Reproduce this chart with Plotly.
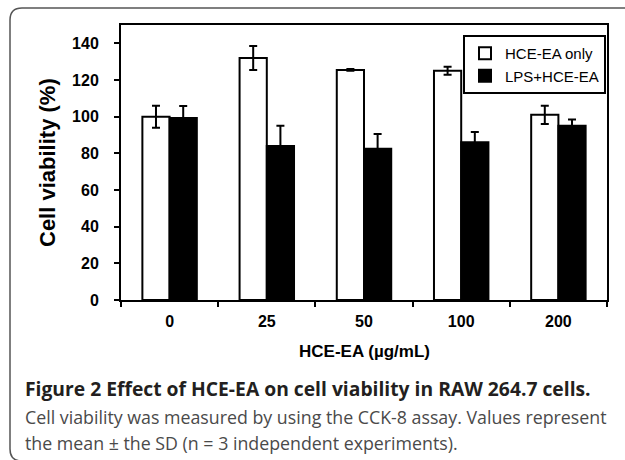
import plotly.graph_objects as go

# ---- data ----
categories = ["0", "25", "50", "100", "200"]
hce_only = [100, 132, 125.5, 125, 101]
hce_only_sd = [6, 6.5, 0.5, 2.2, 5]
lps_hce = [99.3, 84, 82.5, 86, 95]
lps_hce_sd = [6.5, 11, 8, 5.7, 3.5]
y_ticks = [0, 20, 40, 60, 80, 100, 120, 140]

W, H = 625, 460
ML, MR, MT, MB = 121, 18, 25, 160
PW, PH = W - ML - MR, H - MT - MB


def px(x):
    return (x - ML) / PW


def py(y):
    return (H - MB - y) / PH


ARIAL = "Liberation Sans, Arial, sans-serif"
CAP = "Open Sans, Noto Sans, sans-serif"

fig = go.Figure()
fig.add_trace(go.Bar(
    x=categories, y=hce_only, name="HCE-EA only",
    marker=dict(color="white", line=dict(color="black", width=2)),
    error_y=dict(type="data", array=hce_only_sd, visible=True,
                 color="black", thickness=2, width=4),
))
fig.add_trace(go.Bar(
    x=categories, y=lps_hce, name="LPS+HCE-EA",
    marker=dict(color="black", line=dict(color="black", width=2)),
    error_y=dict(type="data", array=lps_hce_sd, visible=True,
                 color="black", thickness=2, width=4),
))

fig.update_layout(
    width=W, height=H,
    margin=dict(l=ML, r=MR, t=MT, b=MB, pad=0),
    paper_bgcolor="white", plot_bgcolor="white",
    barmode="group", bargap=0.44, bargroupgap=0,
    showlegend=True,
    legend=dict(
        x=px(463), y=py(35), xanchor="left", yanchor="top",
        bgcolor="white", bordercolor="black", borderwidth=2,
        font=dict(family=ARIAL, size=15, color="black"),
        tracegroupgap=0,
    ),
    xaxis=dict(
        type="category", tickson="boundaries",
        showline=True, linecolor="black", linewidth=2, mirror=True,
        ticks="outside", ticklen=5, tickwidth=2, tickcolor="black",
        ticklabelstandoff=6,
        tickfont=dict(family=ARIAL, size=16, color="black", weight="bold"),
        showgrid=False, zeroline=False,
    ),
    yaxis=dict(
        range=[0, 150], tickvals=y_ticks,
        showline=True, linecolor="black", linewidth=2, mirror=True,
        ticks="outside", ticklen=5, tickwidth=2, tickcolor="black",
        ticklabelstandoff=12,
        tickfont=dict(family=ARIAL, size=16, color="black", weight="bold"),
        showgrid=False, zeroline=False,
    ),
)

annotations = [
    dict(text="HCE-EA (µg/mL)", x=0.5, y=py(352), xref="paper", yref="paper",
         xanchor="center", yanchor="middle", showarrow=False,
         font=dict(family=ARIAL, size=17, color="black", weight="bold")),
    dict(text="Cell viability (%)", x=px(47), y=py(163), xref="paper", yref="paper",
         xanchor="center", yanchor="middle", showarrow=False, textangle=-90,
         font=dict(family=ARIAL, size=22, color="black", weight="bold")),
    dict(text="Figure 2 Effect of HCE-EA on cell viability in RAW 264.7 cells.",
         x=px(23), y=py(388), xref="paper", yref="paper",
         xanchor="left", yanchor="middle", showarrow=False,
         font=dict(family=CAP, size=19.3, color="#231f20", weight="bold")),
    dict(text="Cell viability was measured by using the CCK-8 assay. Values represent",
         x=px(23), y=py(416.5), xref="paper", yref="paper",
         xanchor="left", yanchor="middle", showarrow=False,
         font=dict(family=CAP, size=17.8, color="#4a4a4a")),
    dict(text="the mean ± the SD (n = 3 independent experiments).",
         x=px(23), y=py(443), xref="paper", yref="paper",
         xanchor="left", yanchor="middle", showarrow=False,
         font=dict(family=CAP, size=17.8, color="#4a4a4a")),
]
fig.update_layout(annotations=annotations)

# outer rounded frame
r_x, r_y = 12 / PW, 12 / PH
L, T, B, R = px(10), py(8), py(461), px(640)
path = (f"M {R},{T} L {L + r_x},{T} Q {L},{T} {L},{T - r_y} "
        f"L {L},{B + r_y} Q {L},{B} {L + r_x},{B} L {R},{B}")
fig.add_shape(type="path", path=path, xref="paper", yref="paper",
              line=dict(color="#555555", width=1.5), layer="below")

fig.write_html("out.html")
